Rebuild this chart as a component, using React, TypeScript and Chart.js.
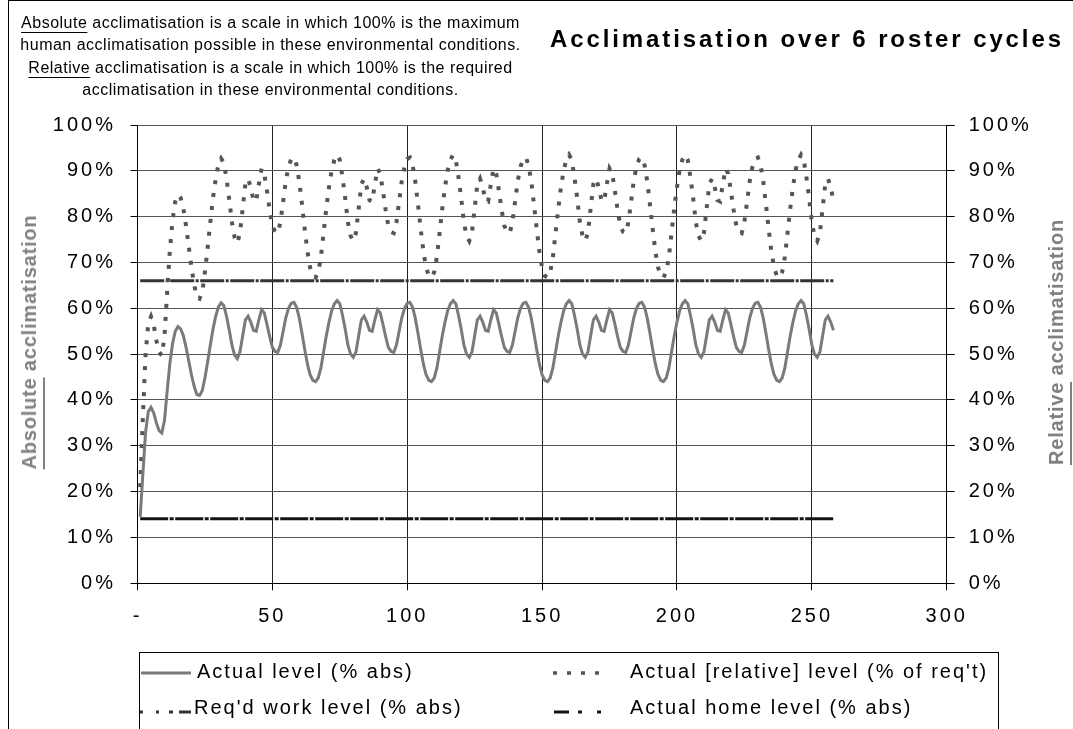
import React, { useEffect, useRef } from 'react';
import { Chart, registerables } from 'chart.js';

Chart.register(...registerables);

// ---------------- data ----------------
const firstDay = 1;

const actualLevel = [
  14.5, 24.0, 33.0, 37.5, 38.4, 37.2, 35.0, 33.3, 32.8, 35.5, 42.0, 48.0, 52.3, 55.0, 56.0, 55.5, 54.0, 51.5, 48.5, 45.5, 43.0, 41.2,
  41.0, 42.0, 44.8, 48.3, 52.0, 55.5, 58.3, 60.3, 61.2, 60.6, 58.3, 55.3, 52.0, 49.8, 49.0, 50.5, 54.0, 57.5, 58.3, 57.0, 55.2, 55.0, 57.5, 59.7, 59.0, 56.5, 53.8, 51.5, 50.6, 50.4, 52.0, 55.0, 58.0, 60.0, 61.1, 61.3, 60.2, 57.8, 54.5, 51.0, 47.8, 45.5, 44.3,
  44.0, 44.8, 47.0, 50.5, 54.0, 57.0, 59.5, 61.0, 61.7, 61.0, 58.5, 55.5, 52.0, 50.0, 49.3, 50.5, 54.0, 57.5, 58.3, 57.0, 55.2, 55.0, 57.5, 59.7, 59.0, 56.5, 53.8, 51.5, 50.6, 50.4, 52.0, 55.0, 58.0, 60.0, 61.1, 61.3, 60.2, 57.8, 54.5, 51.0, 47.8, 45.5, 44.3,
  44.0, 44.8, 47.0, 50.5, 54.0, 57.0, 59.5, 61.0, 61.7, 61.0, 58.5, 55.5, 52.0, 50.0, 49.3, 50.5, 54.0, 57.5, 58.3, 57.0, 55.2, 55.0, 57.5, 59.7, 59.0, 56.5, 53.8, 51.5, 50.6, 50.4, 52.0, 55.0, 58.0, 60.0, 61.1, 61.3, 60.2, 57.8, 54.5, 51.0, 47.8, 45.5, 44.3,
  44.0, 44.8, 47.0, 50.5, 54.0, 57.0, 59.5, 61.0, 61.7, 61.0, 58.5, 55.5, 52.0, 50.0, 49.3, 50.5, 54.0, 57.5, 58.3, 57.0, 55.2, 55.0, 57.5, 59.7, 59.0, 56.5, 53.8, 51.5, 50.6, 50.4, 52.0, 55.0, 58.0, 60.0, 61.1, 61.3, 60.2, 57.8, 54.5, 51.0, 47.8, 45.5, 44.3,
  44.0, 44.8, 47.0, 50.5, 54.0, 57.0, 59.5, 61.0, 61.7, 61.0, 58.5, 55.5, 52.0, 50.0, 49.3, 50.5, 54.0, 57.5, 58.3, 57.0, 55.2, 55.0, 57.5, 59.7, 59.0, 56.5, 53.8, 51.5, 50.6, 50.4, 52.0, 55.0, 58.0, 60.0, 61.1, 61.3, 60.2, 57.8, 54.5, 51.0, 47.8, 45.5, 44.3,
  44.0, 44.8, 47.0, 50.5, 54.0, 57.0, 59.5, 61.0, 61.7, 61.0, 58.5, 55.5, 52.0, 50.0, 49.3, 50.5, 54.0, 57.5, 58.3, 57.0, 55.2,
];

const relativeLevel = [
  21.0, 36.4, 50.0, 56.8, 58.2, 56.4, 53.0, 50.5, 49.7, 53.8, 63.6, 72.7, 79.2, 83.3, 84.8, 84.1, 81.8, 78.0, 73.5, 68.9, 65.2, 62.4,
  62.1, 63.6, 67.9, 73.2, 78.8, 84.1, 88.3, 91.4, 92.7, 91.8, 88.3, 83.8, 78.8, 75.5, 74.2, 76.5, 81.8, 87.1, 88.3, 86.4, 83.6, 83.3, 87.1, 90.5, 89.4, 85.6, 81.5, 78.0, 76.7, 76.4, 78.8, 83.3, 87.9, 90.9, 92.6, 92.9, 91.2, 87.6, 82.6, 77.3, 72.4, 68.9, 67.1,
  66.7, 67.9, 71.2, 76.5, 81.8, 86.4, 90.2, 92.4, 93.5, 92.4, 88.6, 84.1, 78.8, 75.8, 74.7, 76.5, 81.8, 87.1, 88.3, 86.4, 83.6, 83.3, 87.1, 90.5, 89.4, 85.6, 81.5, 78.0, 76.7, 76.4, 78.8, 83.3, 87.9, 90.9, 92.6, 92.9, 91.2, 87.6, 82.6, 77.3, 72.4, 68.9, 67.1,
  66.7, 67.9, 71.2, 76.5, 81.8, 86.4, 90.2, 92.4, 93.5, 92.4, 88.6, 84.1, 78.8, 75.8, 74.7, 76.5, 81.8, 87.1, 88.3, 86.4, 83.6, 83.3, 87.1, 90.5, 89.4, 85.6, 81.5, 78.0, 76.7, 76.4, 78.8, 83.3, 87.9, 90.9, 92.6, 92.9, 91.2, 87.6, 82.6, 77.3, 72.4, 68.9, 67.1,
  66.7, 67.9, 71.2, 76.5, 81.8, 86.4, 90.2, 92.4, 93.5, 92.4, 88.6, 84.1, 78.8, 75.8, 74.7, 76.5, 81.8, 87.1, 88.3, 86.4, 83.6, 83.3, 87.1, 90.5, 89.4, 85.6, 81.5, 78.0, 76.7, 76.4, 78.8, 83.3, 87.9, 90.9, 92.6, 92.9, 91.2, 87.6, 82.6, 77.3, 72.4, 68.9, 67.1,
  66.7, 67.9, 71.2, 76.5, 81.8, 86.4, 90.2, 92.4, 93.5, 92.4, 88.6, 84.1, 78.8, 75.8, 74.7, 76.5, 81.8, 87.1, 88.3, 86.4, 83.6, 83.3, 87.1, 90.5, 89.4, 85.6, 81.5, 78.0, 76.7, 76.4, 78.8, 83.3, 87.9, 90.9, 92.6, 92.9, 91.2, 87.6, 82.6, 77.3, 72.4, 68.9, 67.1,
  66.7, 67.9, 71.2, 76.5, 81.8, 86.4, 90.2, 92.4, 93.5, 92.4, 88.6, 84.1, 78.8, 75.8, 74.7, 76.5, 81.8, 87.1, 88.3, 86.4, 83.6,
];

const reqWorkLevel = [
  66, 66, 66, 66, 66, 66, 66, 66, 66, 66, 66, 66, 66, 66, 66, 66, 66, 66, 66, 66,
  66, 66, 66, 66, 66, 66, 66, 66, 66, 66, 66, 66, 66, 66, 66, 66, 66, 66, 66, 66,
  66, 66, 66, 66, 66, 66, 66, 66, 66, 66, 66, 66, 66, 66, 66, 66, 66, 66, 66, 66,
  66, 66, 66, 66, 66, 66, 66, 66, 66, 66, 66, 66, 66, 66, 66, 66, 66, 66, 66, 66,
  66, 66, 66, 66, 66, 66, 66, 66, 66, 66, 66, 66, 66, 66, 66, 66, 66, 66, 66, 66,
  66, 66, 66, 66, 66, 66, 66, 66, 66, 66, 66, 66, 66, 66, 66, 66, 66, 66, 66, 66,
  66, 66, 66, 66, 66, 66, 66, 66, 66, 66, 66, 66, 66, 66, 66, 66, 66, 66, 66, 66,
  66, 66, 66, 66, 66, 66, 66, 66, 66, 66, 66, 66, 66, 66, 66, 66, 66, 66, 66, 66,
  66, 66, 66, 66, 66, 66, 66, 66, 66, 66, 66, 66, 66, 66, 66, 66, 66, 66, 66, 66,
  66, 66, 66, 66, 66, 66, 66, 66, 66, 66, 66, 66, 66, 66, 66, 66, 66, 66, 66, 66,
  66, 66, 66, 66, 66, 66, 66, 66, 66, 66, 66, 66, 66, 66, 66, 66, 66, 66, 66, 66,
  66, 66, 66, 66, 66, 66, 66, 66, 66, 66, 66, 66, 66, 66, 66, 66, 66, 66, 66, 66,
  66, 66, 66, 66, 66, 66, 66, 66, 66, 66, 66, 66, 66, 66, 66, 66, 66, 66,
];

const homeLevel = [
  14.1, 14.1, 14.1, 14.1, 14.1, 14.1, 14.1, 14.1, 14.1, 14.1, 14.1, 14.1, 14.1, 14.1, 14.1, 14.1, 14.1, 14.1, 14.1, 14.1,
  14.1, 14.1, 14.1, 14.1, 14.1, 14.1, 14.1, 14.1, 14.1, 14.1, 14.1, 14.1, 14.1, 14.1, 14.1, 14.1, 14.1, 14.1, 14.1, 14.1,
  14.1, 14.1, 14.1, 14.1, 14.1, 14.1, 14.1, 14.1, 14.1, 14.1, 14.1, 14.1, 14.1, 14.1, 14.1, 14.1, 14.1, 14.1, 14.1, 14.1,
  14.1, 14.1, 14.1, 14.1, 14.1, 14.1, 14.1, 14.1, 14.1, 14.1, 14.1, 14.1, 14.1, 14.1, 14.1, 14.1, 14.1, 14.1, 14.1, 14.1,
  14.1, 14.1, 14.1, 14.1, 14.1, 14.1, 14.1, 14.1, 14.1, 14.1, 14.1, 14.1, 14.1, 14.1, 14.1, 14.1, 14.1, 14.1, 14.1, 14.1,
  14.1, 14.1, 14.1, 14.1, 14.1, 14.1, 14.1, 14.1, 14.1, 14.1, 14.1, 14.1, 14.1, 14.1, 14.1, 14.1, 14.1, 14.1, 14.1, 14.1,
  14.1, 14.1, 14.1, 14.1, 14.1, 14.1, 14.1, 14.1, 14.1, 14.1, 14.1, 14.1, 14.1, 14.1, 14.1, 14.1, 14.1, 14.1, 14.1, 14.1,
  14.1, 14.1, 14.1, 14.1, 14.1, 14.1, 14.1, 14.1, 14.1, 14.1, 14.1, 14.1, 14.1, 14.1, 14.1, 14.1, 14.1, 14.1, 14.1, 14.1,
  14.1, 14.1, 14.1, 14.1, 14.1, 14.1, 14.1, 14.1, 14.1, 14.1, 14.1, 14.1, 14.1, 14.1, 14.1, 14.1, 14.1, 14.1, 14.1, 14.1,
  14.1, 14.1, 14.1, 14.1, 14.1, 14.1, 14.1, 14.1, 14.1, 14.1, 14.1, 14.1, 14.1, 14.1, 14.1, 14.1, 14.1, 14.1, 14.1, 14.1,
  14.1, 14.1, 14.1, 14.1, 14.1, 14.1, 14.1, 14.1, 14.1, 14.1, 14.1, 14.1, 14.1, 14.1, 14.1, 14.1, 14.1, 14.1, 14.1, 14.1,
  14.1, 14.1, 14.1, 14.1, 14.1, 14.1, 14.1, 14.1, 14.1, 14.1, 14.1, 14.1, 14.1, 14.1, 14.1, 14.1, 14.1, 14.1, 14.1, 14.1,
  14.1, 14.1, 14.1, 14.1, 14.1, 14.1, 14.1, 14.1, 14.1, 14.1, 14.1, 14.1, 14.1, 14.1, 14.1, 14.1, 14.1, 14.1,
];

const xTickValues = [0, 50, 100, 150, 200, 250, 300];
const xTickLabels = ['-', '50', '100', '150', '200', '250', '300'];
const yTickValues = [0, 10, 20, 30, 40, 50, 60, 70, 80, 90, 100];
const yTickLabels = ['0%', '10%', '20%', '30%', '40%', '50%', '60%', '70%', '80%', '90%', '100%'];

const seriesLabels = [
  'Actual level (% abs)',
  "Actual [relative] level (% of req't)",
  "Req'd work level (% abs)",
  'Actual home level (% abs)',
];

const titleText = 'Acclimatisation over 6 roster cycles';
const leftAxisWords = ['Absolute', ' acclimatisation'];
const rightAxisWords = ['Relative', ' acclimatisation'];
const noteLines = [
  ['Absolute', ' acclimatisation is a scale in which 100% is the maximum'],
  ['', 'human acclimatisation possible in these environmental conditions.'],
  ['Relative', ' acclimatisation is a scale in which 100% is the required'],
  ['', 'acclimatisation in these environmental conditions.'],
];

// ---------------- layout / style ----------------
const W = 1073;
const H = 729;
const AREA = { left: 137.5, right: 946.7, top: 125, bottom: 583.3 };
const FONT = "'Liberation Sans', Arial, Helvetica, sans-serif";
const TICK_FONT = { family: FONT, size: 20 };
const TICK_SPACING = '3px';

const STYLE = {
  actual: { color: '#7a7a7a', width: 3 },
  relative: { color: '#555555', width: 4, dash: [4, 9] },
  req: { color: '#333333', width: 3, dash: [24, 1.5, 3, 1.5] },
  home: { color: '#141414', width: 3, dash: [28, 1.5, 4, 1.5] },
};

const toPoints = (arr: number[]) => arr.map((y, i) => ({ x: firstDay + i, y }));

const spacingPlugin = {
  id: 'letterSpacing',
  beforeLayout(chart: any) {
    chart.ctx.letterSpacing = TICK_SPACING;
  },
  beforeDraw(chart: any) {
    chart.ctx.letterSpacing = TICK_SPACING;
  },
};

function makeYAxis(position: 'left' | 'right') {
  const isLeft = position === 'left';
  return {
    type: 'linear' as const,
    position,
    min: 0,
    max: 100,
    afterBuildTicks: (s: any) => {
      s.ticks = yTickValues.map((v) => ({ value: v }));
    },
    ticks: {
      callback: (_v: any, i: number) => yTickLabels[i],
      font: TICK_FONT,
      color: '#000',
      padding: isLeft ? 14.5 : 14,
      autoSkip: false,
    },
    grid: isLeft
      ? { color: '#555', lineWidth: 1, tickLength: 7, tickColor: '#000', drawTicks: true }
      : { drawOnChartArea: false, tickLength: 8, tickColor: '#000', drawTicks: true },
    border: { color: '#000', width: 1 },
    afterFit: (s: any) => {
      s.width = isLeft ? AREA.left : W - AREA.right;
    },
  };
}

export default function App() {
  const ref = useRef<HTMLCanvasElement>(null);

  useEffect(() => {
    if (!ref.current) return;
    const chart = new Chart(ref.current, {
      type: 'line',
      data: {
        datasets: [
          {
            label: seriesLabels[0],
            data: toPoints(actualLevel),
            borderColor: STYLE.actual.color,
            borderWidth: STYLE.actual.width,
            pointRadius: 0,
            tension: 0,
            yAxisID: 'y',
          },
          {
            label: seriesLabels[1],
            data: toPoints(relativeLevel),
            borderColor: STYLE.relative.color,
            borderWidth: STYLE.relative.width,
            borderDash: STYLE.relative.dash,
            borderCapStyle: 'butt',
            pointRadius: 0,
            tension: 0,
            yAxisID: 'y2',
          },
          {
            label: seriesLabels[2],
            data: toPoints(reqWorkLevel),
            borderColor: STYLE.req.color,
            borderWidth: STYLE.req.width,
            borderDash: STYLE.req.dash,
            pointRadius: 0,
            tension: 0,
            yAxisID: 'y',
          },
          {
            label: seriesLabels[3],
            data: toPoints(homeLevel),
            borderColor: STYLE.home.color,
            borderWidth: STYLE.home.width,
            borderDash: STYLE.home.dash,
            pointRadius: 0,
            tension: 0,
            yAxisID: 'y',
          },
        ],
      },
      options: {
        responsive: false,
        animation: false,
        events: [],
        layout: { padding: { top: AREA.top, left: 0, right: 0, bottom: 0 } },
        plugins: { legend: { display: false }, tooltip: { enabled: false }, title: { display: false } },
        scales: {
          x: {
            type: 'linear',
            position: 'bottom',
            min: 0,
            max: 300,
            afterBuildTicks: (s: any) => {
              s.ticks = xTickValues.map((v) => ({ value: v }));
            },
            ticks: {
              callback: (_v: any, i: number) => xTickLabels[i],
              font: TICK_FONT,
              color: '#000',
              padding: 14,
              maxRotation: 0,
              autoSkip: false,
            },
            grid: { color: '#222', lineWidth: 1, tickLength: 7, tickColor: '#000', drawTicks: true },
            border: { color: '#000', width: 1 },
            afterFit: (s: any) => {
              s.height = H - AREA.bottom;
            },
          },
          y: makeYAxis('left'),
          y2: makeYAxis('right'),
        },
      } as any,
      plugins: [spacingPlugin],
    });
    return () => chart.destroy();
  }, []);

  const axisTitleStyle = (cx: number): React.CSSProperties => ({
    position: 'absolute',
    left: cx,
    top: 342,
    transform: 'translate(-50%, -50%) rotate(-90deg)',
    whiteSpace: 'nowrap',
    fontSize: 20,
    lineHeight: '20px',
    fontWeight: 'bold',
    letterSpacing: '0.8px',
    color: '#808080',
  });
  const axisUnderline: React.CSSProperties = {
    textDecoration: 'underline',
    textDecorationColor: '#808080',
    textDecorationThickness: '2px',
    textUnderlineOffset: '7px',
  };

  const legendTextStyle = (left: number, capCenter: number): React.CSSProperties => ({
    position: 'absolute',
    left,
    top: capCenter - 10,
    fontSize: 20,
    lineHeight: '20px',
    letterSpacing: '2px',
    whiteSpace: 'nowrap',
    color: '#000',
  });

  return (
    <div
      style={{
        position: 'fixed',
        left: 0,
        top: 0,
        width: W,
        height: H,
        overflow: 'hidden',
        background: '#fff',
        fontFamily: FONT,
      }}
    >
      {/* outer chart frame */}
      <div
        style={{
          position: 'absolute',
          left: 8,
          top: 0,
          width: 1200,
          height: 1000,
          borderLeft: '1px solid #000',
          borderTop: '1px solid #000',
        }}
      />
      <canvas ref={ref} width={W} height={H} style={{ position: 'absolute', left: 0, top: 0 }} />

      {/* explanatory note */}
      <div
        style={{
          position: 'absolute',
          left: 8,
          top: 12,
          width: 525,
          textAlign: 'center',
          fontSize: 16,
          lineHeight: '22.3px',
          letterSpacing: '0.5px',
          color: '#000',
        }}
      >
        {noteLines.map((ln, i) => (
          <div key={i} style={{ whiteSpace: 'nowrap' }}>
            {ln[0] ? (
              <span style={{ textDecoration: 'underline', textUnderlineOffset: '4px' }}>{ln[0]}</span>
            ) : null}
            {ln[1]}
          </div>
        ))}
      </div>

      {/* title */}
      <div
        style={{
          position: 'absolute',
          left: 550,
          top: 25,
          fontSize: 24,
          lineHeight: '28px',
          fontWeight: 'bold',
          letterSpacing: '2.9px',
          whiteSpace: 'nowrap',
          color: '#000',
        }}
      >
        {titleText}
      </div>

      {/* axis titles */}
      <div style={axisTitleStyle(28.5)}>
        <span style={axisUnderline}>{leftAxisWords[0]}</span>
        {leftAxisWords[1]}
      </div>
      <div style={axisTitleStyle(1056)}>
        <span style={axisUnderline}>{rightAxisWords[0]}</span>
        {rightAxisWords[1]}
      </div>

      {/* legend */}
      <div
        style={{
          position: 'absolute',
          left: 139,
          top: 652,
          width: 858,
          height: 200,
          border: '1px solid #000',
        }}
      />
      <svg width={W} height={H} style={{ position: 'absolute', left: 0, top: 0, pointerEvents: 'none' }}>
        <line x1={141} y1={673} x2={191} y2={673} stroke={STYLE.actual.color} strokeWidth={3} />
        <line x1={553} y1={673} x2={605} y2={673} stroke={STYLE.relative.color} strokeWidth={3.5} strokeDasharray="4 10" />
        <line x1={140} y1={712} x2={191} y2={712} stroke={STYLE.req.color} strokeWidth={3} strokeDasharray="3 13 3 10 4 6 12" />
        <line x1={554} y1={712} x2={602} y2={712} stroke={STYLE.home.color} strokeWidth={3} strokeDasharray="15 9 4 15 4" />
      </svg>
      <div style={legendTextStyle(197, 671)}>{seriesLabels[0]}</div>
      <div style={legendTextStyle(630, 671)}>{seriesLabels[1]}</div>
      <div style={legendTextStyle(194, 707)}>{seriesLabels[2]}</div>
      <div style={legendTextStyle(630, 707)}>{seriesLabels[3]}</div>
    </div>
  );
}
